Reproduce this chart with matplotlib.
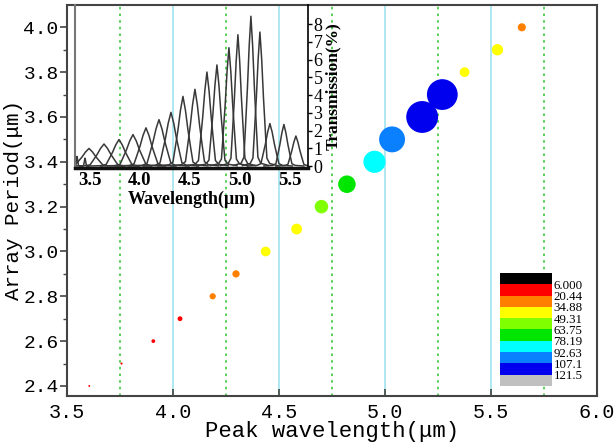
import numpy as np
import matplotlib
matplotlib.use("Agg")
import matplotlib.pyplot as plt
from matplotlib.colors import ListedColormap, BoundaryNorm
from matplotlib.cm import ScalarMappable

# DONNEES : graphique principal
periode = [2.4, 2.5, 2.6, 2.7, 2.8, 2.9, 3.0, 3.1, 3.2, 3.3, 3.4, 3.5, 3.6, 3.7, 3.8, 3.9, 4.0]
lambda_pic = [3.605, 3.757, 3.907, 4.033, 4.187, 4.297, 4.437, 4.583, 4.70, 4.82,
              4.95, 5.033, 5.175, 5.27, 5.375, 5.53, 5.645]
amplitude = [7, 8, 14, 18, 23, 27, 36, 40, 50, 65, 82, 96, 118, 114, 36, 42, 30]

# échelle de couleurs (légende)
niveaux = [6.000, 20.44, 34.88, 49.31, 63.75, 78.19, 92.63, 107.1, 121.5]
niveaux_txt = ["6.000", "20.44", "34.88", "49.31", "63.75", "78.19", "92.63", "107.1", "121.5"]
couleurs = ["#000000", "#ff0000", "#ff7f00", "#ffff00", "#80ff00",
            "#00e600", "#00ffff", "#0a80ff", "#0000ee", "#c0c0c0"]

# DONNEES : encart (spectres de transmission)
pic_centre = [3.37, 3.45, 3.49, 3.64, 3.79, 3.93, 4.06, 4.19, 4.31, 4.43, 4.55,
              4.67, 4.77, 4.89, 4.98, 5.11, 5.20, 5.30, 5.44, 5.56]
pic_hauteur = [0.55, 0.45, 1.0, 1.25, 1.5, 1.78, 2.16, 2.62, 3.03, 3.93, 4.33,
               5.3, 5.7, 6.67, 7.4, 8.44, 7.55, 2.4, 2.35, 1.7]
pic_demibase = [0.015, 0.015, 0.14, 0.14, 0.13, 0.13, 0.12, 0.12, 0.11, 0.10, 0.095,
                0.085, 0.08, 0.075, 0.07, 0.07, 0.07, 0.09, 0.08, 0.08]
# forme d'un pic (écart en demi-bases, hauteur relative)
forme_dx = [-2.5, -1.4, -1.0, -0.8, -0.5, -0.25, 0, 0.25, 0.5, 0.8, 1.0, 1.4, 2.5]
forme_y = [0.005, 0.02, 0.06, 0.24, 0.52, 0.8, 1, 0.8, 0.52, 0.24, 0.06, 0.02, 0.005]

mono = "Liberation Mono"
serif = "Liberation Serif"

fig = plt.figure(figsize=(6.16, 4.45), dpi=100)
ax = fig.add_axes([0.1088, 0.110, 0.8605, 0.879])

# lignes verticales
for x in [4.0, 4.5, 5.0, 5.5]:
    ax.axvline(x, color="#9fe4ee", lw=1.2, zorder=0)
for x in [3.75, 4.25, 4.75, 5.25, 5.75]:
    ax.axvline(x, color="#3cc83c", lw=1.2, ls=(0, (1.5, 2.5)), zorder=0)

cmap = ListedColormap(couleurs)
bornes = [niveaux[0] - 14.44] + niveaux + [niveaux[-1] + 14.44]
norm = BoundaryNorm(bornes, cmap.N)

amp = np.array(amplitude)
ax.scatter(lambda_pic, periode, c=amp, cmap=cmap, norm=norm,
           s=(0.72 * 0.27 * amp) ** 2, linewidths=0, zorder=3)

ax.set_xlim(3.5, 6.0)
ax.set_ylim(2.355, 4.10)
ax.set_xticks([3.5, 4.0, 4.5, 5.0, 5.5, 6.0])
ax.set_xticklabels(["3.5", "4.0", "4.5", "5.0", "5.5", "6.0"])
ax.set_yticks([2.4, 2.6, 2.8, 3.0, 3.2, 3.4, 3.6, 3.8, 4.0])
ax.set_yticklabels(["2.4", "2.6", "2.8", "3.0", "3.2", "3.4", "3.6", "3.8", "4.0"])
ax.set_yticks(np.arange(2.5, 4.05, 0.2), minor=True)
ax.tick_params(axis="x", direction="in", length=5, width=1.2, color="#444444",
               labelsize=14.5, pad=5)
ax.tick_params(axis="y", which="major", direction="out", length=5, width=1.2,
               color="#444444", labelsize=14, pad=1)
ax.tick_params(axis="y", which="minor", direction="out", length=3, width=1,
               color="#444444")
for lab in ax.get_xticklabels() + ax.get_yticklabels():
    lab.set_family(mono)
for sp in ax.spines.values():
    sp.set_color("#444444")
    sp.set_linewidth(1.5)
ax.set_xlabel("Peak wavelength(μm)", family=mono, fontsize=16, labelpad=-1)
ax.set_ylabel("Array Period(μm)", family=mono, fontsize=15, labelpad=0)

# légende de couleurs
cax = fig.add_axes([0.8117, 0.1326, 0.0844, 0.254])
cb = fig.colorbar(ScalarMappable(norm=norm, cmap=cmap), cax=cax,
                  boundaries=bornes, ticks=niveaux)
cax.invert_yaxis()
cb.outline.set_visible(False)
cax.minorticks_off()
cax.set_yticklabels(niveaux_txt)
cax.tick_params(length=0, pad=1, labelsize=9.3)
for lab in cax.get_yticklabels():
    lab.set_family(serif)

# encart
axi = fig.add_axes([0.1218, 0.6225, 0.378, 0.3665])
axi.patch.set_visible(False)
for c, h, b in zip(pic_centre, pic_hauteur, pic_demibase):
    xs = [c + d * b for d in forme_dx]
    ys = [h * r for r in forme_y]
    axi.plot(xs, ys, color="#383838", lw=1.1)
axi.set_xlim(3.35, 5.68)
axi.set_ylim(-0.1, 9.08)
axi.set_xticks([3.5, 4.0, 4.5, 5.0, 5.5])
axi.set_xticklabels(["3.5", "4.0", "4.5", "5.0", "5.5"])
axi.yaxis.tick_right()
axi.yaxis.set_label_position("right")
axi.set_yticks(range(0, 9))
axi.tick_params(axis="x", length=0, labelsize=13.5, pad=3)
axi.tick_params(axis="y", direction="out", length=3, width=1, labelsize=13, pad=1)
for lab in axi.get_xticklabels():
    lab.set_family(serif)
    lab.set_weight("bold")
for lab in axi.get_yticklabels():
    lab.set_family(serif)
axi.spines["top"].set_visible(False)
axi.spines["left"].set_color("#777777")
axi.spines["left"].set_linewidth(1.5)
axi.spines["bottom"].set_color("#111111")
axi.spines["bottom"].set_linewidth(2.5)
axi.spines["right"].set_linewidth(1.2)
axi.set_xlabel("Wavelength(μm)", family=serif, weight="bold", fontsize=13, labelpad=1)
axi.set_ylabel("Transmission(%)", family=serif, weight="bold", fontsize=12.5,
               labelpad=2)

plt.savefig("out.png", dpi=100)
